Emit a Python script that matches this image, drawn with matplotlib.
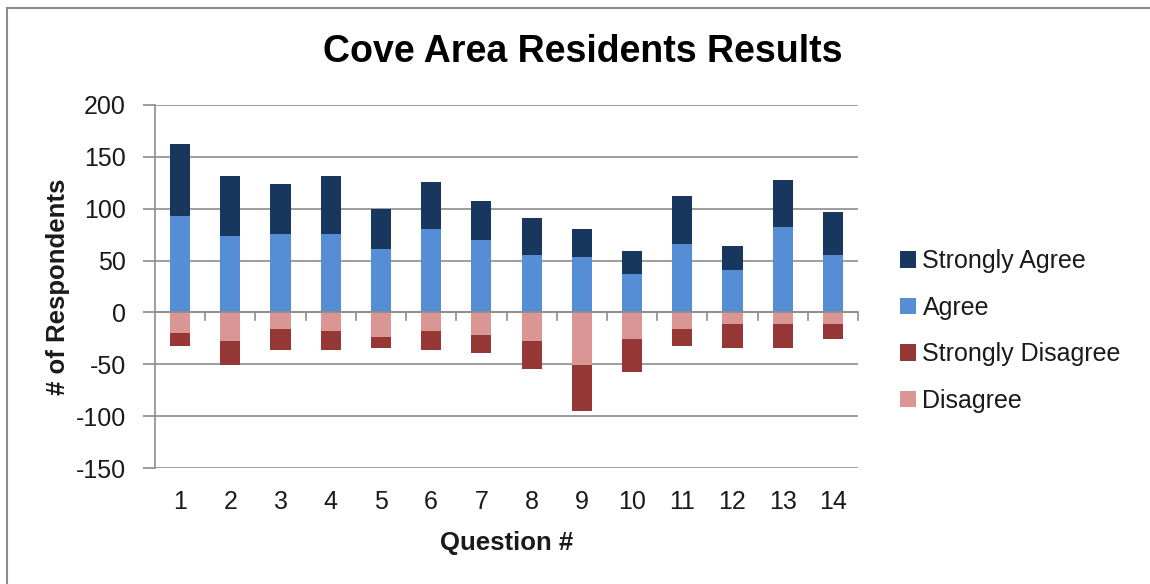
import matplotlib
matplotlib.use("Agg")
import matplotlib.pyplot as plt
from matplotlib.patches import Rectangle, Patch
import numpy as np

plt.rcParams['font.family'] = ['Liberation Sans', 'DejaVu Sans']

questions = [str(i) for i in range(1, 15)]
agree = [93, 74, 76, 76, 61, 80, 70, 55, 53, 37, 66, 41, 82, 55]
strongly_agree = [69, 58, 48, 56, 39, 46, 37, 36, 27, 22, 46, 23, 46, 42]
disagree = [20, 28, 16, 18, 24, 18, 22, 28, 51, 26, 16, 11, 11, 11]
strongly_disagree = [12, 23, 20, 18, 10, 18, 17, 27, 44, 31, 16, 23, 23, 15]
y_ticks = [200, 150, 100, 50, 0, -50, -100, -150]

c_sa = '#17375E'
c_a = '#558ED5'
c_sd = '#953735'
c_d = '#D99694'
grid_c = '#8C8C8C'
txt_c = '#1A1A1A'

W, H = 1150, 584
fig = plt.figure(figsize=(W / 100, H / 100), dpi=100)

# outer chart border
fig.add_artist(Rectangle((7 / W, -0.05), 1.2, 1 - 8 / H + 0.05, transform=fig.transFigure,
                         fill=False, edgecolor=grid_c, linewidth=1.5))

ax = fig.add_axes([155 / W, 1 - 468 / H, 703 / W, 363 / H])
x = np.arange(len(questions))
bw = 0.4
ag = np.array(agree)
di = np.array(disagree)
ax.bar(x, agree, bw, color=c_a, zorder=3)
ax.bar(x, strongly_agree, bw, bottom=ag, color=c_sa, zorder=3)
ax.bar(x, [-v for v in disagree], bw, color=c_d, zorder=3)
ax.bar(x, [-v for v in strongly_disagree], bw, bottom=-di, color=c_sd, zorder=3)

ax.set_xlim(-0.5, len(questions) - 0.5)
ax.set_ylim(-150, 200)
ax.set_yticks(y_ticks)
ax.set_yticklabels([str(v) for v in y_ticks], fontsize=18, color=txt_c)
ax.set_xticks(x)
ax.set_xticklabels(questions, fontsize=18, color=txt_c)
ax.tick_params(axis='x', length=0, pad=16)
ax.tick_params(axis='y', length=9, width=1.2, color=grid_c, pad=12)
ax.grid(axis='y', color=grid_c, linewidth=1.2, zorder=1)
for s in ['top', 'right', 'bottom']:
    ax.spines[s].set_visible(False)
ax.spines['left'].set_color(grid_c)
ax.spines['left'].set_linewidth(1.2)

# category axis at zero with tick marks between categories
ax.axhline(0, color=grid_c, linewidth=1.2, zorder=4)
for b in np.arange(0.5, len(questions) - 0.5 + 1e-9, 1.0):
    ax.plot([b, b], [0, -7.5], color=grid_c, linewidth=1.2, zorder=4, clip_on=False)

ax.set_xlabel('Question #', fontsize=18.5, fontweight='bold', labelpad=12, color=txt_c)
ax.set_ylabel('# of Respondents', fontsize=18.5, fontweight='bold', labelpad=4, color=txt_c)

fig.text(583 / W, 1 - 62 / H, 'Cove Area Residents Results', fontsize=27, fontweight='bold',
         ha='center', va='baseline', color='#000000')

handles = [Patch(facecolor=c_sa), Patch(facecolor=c_a), Patch(facecolor=c_sd), Patch(facecolor=c_d)]
labels = ['Strongly Agree', 'Agree', 'Strongly Disagree', 'Disagree']
fig.legend(handles, labels, loc='center left', bbox_to_anchor=(900 / W, 1 - 331 / H),
           frameon=False, fontsize=18, handlelength=0.65, handleheight=0.65,
           handletextpad=0.25, labelspacing=0.9, borderpad=0, borderaxespad=0,
           labelcolor=txt_c)

fig.savefig('out.png', dpi=100)
